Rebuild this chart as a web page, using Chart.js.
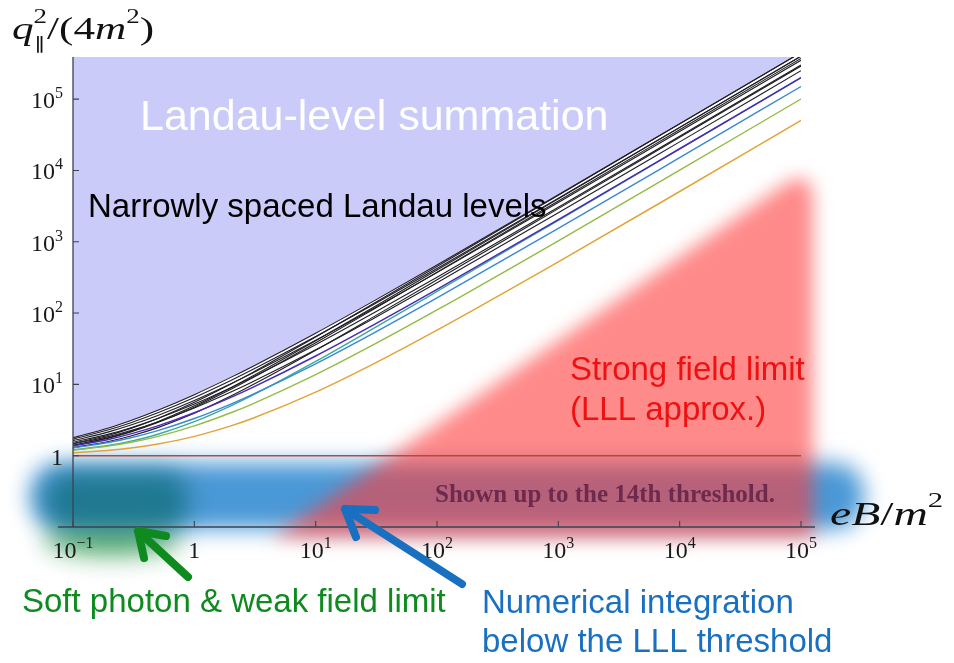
<!DOCTYPE html>
<html>
<head>
<meta charset="utf-8">
<script src="https://cdn.jsdelivr.net/npm/chart.js@4.4.0/dist/chart.umd.min.js"></script>
<style>
  html, body { margin: 0; padding: 0; background: #fff; }
  #wrap { width: 954px; height: 663px; }
</style>
</head>
<body>
<div id="wrap"><canvas id="chart" width="954" height="663"></canvas></div>
<script>
// eB/m^2 sample points
const fieldValues = [0.1, 0.2, 0.3, 0.5, 1, 2, 3, 10, 30, 100, 1000, 10000, 100000];

// q_par^2/(4m^2) of each threshold curve (lowest first)
const thrOrange = [1.098, 1.192, 1.282, 1.457, 1.866, 2.618, 3.323, 7.791, 19.40, 57.59, 522.9, 5071, 50224];
const thrYellowGreen = [1.192, 1.371, 1.542, 1.866, 2.618, 4, 5.303, 13.70, 36, 110.5, 1032, 10101, 100317];
const thrTeal = [1.2, 1.4, 1.6, 2, 3, 5, 7, 21, 61, 201, 2001, 20001, 200001];
const thrBlue = [1.282, 1.542, 1.787, 2.25, 3.323, 5.303, 7.179, 19.40, 52.23, 162.8, 1539, 15123, 150388];
const thrIndigo = [1.371, 1.706, 2.022, 2.618, 4, 6.562, 9, 25, 68.26, 214.6, 2045, 20142, 200448];
const thrBlack1 = [1.298, 1.594, 1.888, 2.475, 3.937, 6.854, 9.770, 30.17, 88.46, 292.4, 2915, 29143, 291422];
const thrBlack2 = [1.457, 1.866, 2.25, 2.975, 4.658, 7.791, 10.78, 30.52, 84.17, 266.3, 2550, 25158, 250500];
const thrBlack3 = [1.393, 1.778, 2.158, 2.914, 4.792, 8.531, 12.27, 38.40, 113.0, 374.3, 3733, 37322, 373206];
const thrBlack4 = [1.4, 1.8, 2.2, 3, 5, 9, 13, 41, 121, 401, 4001, 40001, 400001];
const thrBlack5 = [1.542, 2.022, 2.472, 3.323, 5.303, 9, 12.54, 36, 100, 317.8, 3055, 30174, 300551];
const thrBlack6 = [1.485, 1.954, 2.416, 3.331, 5.598, 10.11, 14.61, 46.12, 136.1, 451.1, 4501, 45001, 450001];
const thrBlack7 = [1.625, 2.175, 2.690, 3.664, 5.937, 10.19, 14.28, 41.44, 115.8, 369.2, 3560, 35187, 350594];
const thrBlack8 = [1.706, 2.325, 2.904, 4, 6.562, 11.37, 16, 46.84, 131.5, 420.5, 4064, 40200, 400632];
const thrTop = [1.787, 2.472, 3.115, 4.331, 7.179, 12.54, 17.71, 52.23, 147.1, 471.7, 4568, 45212, 450671];

// lowest Landau level threshold
const lllField = [0.1, 100000];
const lllValue = [1, 1];

// axis ticks
const xTickValues = [0.1, 1, 10, 100, 1000, 10000, 100000];
const xTickBase = ['10', '1', '10', '10', '10', '10', '10'];
const xTickExp = ['\u22121', '', '1', '2', '3', '4', '5'];
const yTickValues = [1, 10, 100, 1000, 10000, 100000];
const yTickBase = ['1', '10', '10', '10', '10', '10'];
const yTickExp = ['', '1', '2', '3', '4', '5'];

const SANS = "'Liberation Sans', Arial, sans-serif";
const SERIF = "'Liberation Serif', 'Times New Roman', serif";

function pts(vals, xs) {
    xs = xs || fieldValues;
    return xs.map((x, i) => ({ x: x, y: vals[i] }));
}

function curve(vals, color, width) {
    return {
        data: pts(vals),
        borderColor: color,
        borderWidth: width,
        pointRadius: 0,
        cubicInterpolationMode: 'monotone',
        fill: false
    };
}

function arrow(ctx, tail, tip, leg1, leg2, color, w) {
    ctx.save();
    ctx.strokeStyle = color;
    ctx.lineWidth = w;
    ctx.lineCap = 'round';
    ctx.lineJoin = 'round';
    ctx.beginPath();
    ctx.moveTo(tail[0], tail[1]);
    ctx.lineTo(tip[0], tip[1]);
    ctx.stroke();
    ctx.beginPath();
    ctx.moveTo(leg1[0], leg1[1]);
    ctx.lineTo(tip[0], tip[1]);
    ctx.lineTo(leg2[0], leg2[1]);
    ctx.stroke();
    ctx.restore();
}

function txt(ctx, s, x, y, font, color, align) {
    ctx.font = font;
    ctx.fillStyle = color;
    ctx.textAlign = align || 'left';
    ctx.textBaseline = 'alphabetic';
    ctx.fillText(s, x, y);
}

// math label: runs drawn one after another, stretched by sx like the TeX original
function mathLabel(ctx, x, base, sx, runs) {
    ctx.save();
    ctx.translate(x, base);
    ctx.scale(sx, 1);
    ctx.fillStyle = '#111';
    ctx.textAlign = 'left';
    ctx.textBaseline = 'alphabetic';
    let cx = 0;
    runs.forEach(r => {
        let w = 0;
        r.forEach(p => {
            ctx.font = p.f;
            ctx.fillText(p.t, cx, p.dy || 0);
            w = Math.max(w, ctx.measureText(p.t).width);
        });
        cx += w;
    });
    ctx.restore();
}

const decor = {
    id: 'decor',
    beforeDraw(chart) {
        const ctx = chart.ctx;
        ctx.save();
        ctx.fillStyle = '#fff';
        ctx.fillRect(0, 0, chart.width, chart.height);

        // blue band below the LLL threshold
        ctx.filter = 'blur(11px)';
        ctx.fillStyle = '#4a98d6';
        ctx.beginPath();
        ctx.roundRect(30, 463, 834, 66, 30);
        ctx.fill();

        // green glow + dark teal blob at small field
        ctx.filter = 'blur(12px)';
        ctx.fillStyle = 'rgba(40,150,70,0.75)';
        ctx.beginPath();
        ctx.ellipse(112, 540, 68, 16, 0, 0, Math.PI * 2);
        ctx.fill();
        ctx.fillStyle = 'rgba(20,112,128,0.8)';
        ctx.beginPath();
        ctx.roundRect(46, 472, 142, 58, 24);
        ctx.fill();

        // red triangle: strong field region
        ctx.filter = 'blur(9px)';
        ctx.fillStyle = 'rgba(255,60,60,0.6)';
        ctx.beginPath();
        ctx.moveTo(272, 538);
        ctx.lineTo(782, 186);
        ctx.quadraticCurveTo(812, 166, 813, 200);
        ctx.lineTo(813, 538);
        ctx.closePath();
        ctx.fill();
        ctx.restore();
    },
    afterDraw(chart) {
        const ctx = chart.ctx;
        const xs = chart.scales.x, ys = chart.scales.y;
        const x0 = xs.getPixelForValue(xs.min);
        const y0 = ys.getPixelForValue(ys.min);
        const yTop = ys.getPixelForValue(ys.max);
        ctx.save();

        // axes
        ctx.strokeStyle = '#3a4352';
        ctx.lineWidth = 1.3;
        ctx.beginPath();
        ctx.moveTo(58, y0); ctx.lineTo(815, y0);
        ctx.moveTo(x0, yTop); ctx.lineTo(x0, y0);
        ctx.stroke();
        ctx.lineWidth = 1.1;
        ctx.beginPath();
        xTickValues.forEach(v => {
            const px = xs.getPixelForValue(v);
            ctx.moveTo(px, y0); ctx.lineTo(px, y0 - 6);
        });
        yTickValues.forEach(v => {
            const py = ys.getPixelForValue(v);
            ctx.moveTo(x0, py); ctx.lineTo(x0 + 6, py);
        });
        ctx.stroke();

        // tick labels (10 with superscript exponent)
        const baseFont = '24px ' + SERIF, expFont = '16px ' + SERIF;
        xTickValues.forEach((v, i) => {
            const px = xs.getPixelForValue(v);
            ctx.font = baseFont;
            const wb = ctx.measureText(xTickBase[i]).width;
            ctx.font = expFont;
            const we = xTickExp[i] ? ctx.measureText(xTickExp[i]).width : 0;
            const left = px - (wb + we) / 2;
            txt(ctx, xTickBase[i], left, 558, baseFont, '#1a1a1a');
            if (xTickExp[i]) txt(ctx, xTickExp[i], left + wb, 548, expFont, '#1a1a1a');
        });
        yTickValues.forEach((v, i) => {
            const py = ys.getPixelForValue(v);
            ctx.font = expFont;
            const we = yTickExp[i] ? ctx.measureText(yTickExp[i]).width : 0;
            const right = 63;
            if (yTickExp[i]) txt(ctx, yTickExp[i], right, py - 1, expFont, '#1a1a1a', 'right');
            txt(ctx, yTickBase[i], right - we, py + 9, baseFont, '#1a1a1a', 'right');
        });

        // axis titles
        const it = 'italic 32px ' + SERIF, up = '32px ' + SERIF, sm = '20px ' + SERIF;
        mathLabel(ctx, 12, 39, 1.35, [
            [{ t: 'q', f: it }],
            [{ t: '2', f: sm, dy: -16 }, { t: '\u2225', f: '17px ' + SERIF, dy: 10 }],
            [{ t: '/', f: up }],
            [{ t: '(', f: up }],
            [{ t: '4', f: up }],
            [{ t: 'm', f: it }],
            [{ t: '2', f: sm, dy: -16 }],
            [{ t: ')', f: up }]
        ]);
        const it2 = 'italic 34px ' + SERIF;
        mathLabel(ctx, 830, 525, 1.4, [
            [{ t: 'e', f: it2 }],
            [{ t: 'B', f: it2 }],
            [{ t: '/', f: '34px ' + SERIF }],
            [{ t: 'm', f: it2 }],
            [{ t: '2', f: '22px ' + SERIF, dy: -18 }]
        ]);

        // annotations
        txt(ctx, 'Landau-level summation', 140, 130, '43px ' + SANS, '#ffffff');
        txt(ctx, 'Narrowly spaced Landau levels', 88, 217, '33px ' + SANS, '#000000');
        txt(ctx, 'Strong field limit', 570, 380, '33px ' + SANS, '#ee1111');
        txt(ctx, '(LLL approx.)', 570, 420, '33px ' + SANS, '#ee1111');
        txt(ctx, 'Shown up to the 14th threshold.', 435, 502, 'bold 25px ' + SERIF, '#6e2a4c');
        txt(ctx, 'Soft photon & weak field limit', 22, 612, '33px ' + SANS, '#0e8a1e');
        txt(ctx, 'Numerical integration', 482, 613, '33px ' + SANS, '#1a70c0');
        txt(ctx, 'below the LLL threshold', 482, 652, '33px ' + SANS, '#1a70c0');

        arrow(ctx, [188, 577], [138, 531], [166, 536], [144, 558], '#0e8a1e', 8);
        arrow(ctx, [462, 584], [345, 509], [375, 510], [356, 537], '#1a70c0', 8);
        ctx.restore();
    }
};

const blackCurves = [thrBlack1, thrBlack2, thrBlack3, thrBlack4, thrBlack5, thrBlack6, thrBlack7, thrBlack8];

const datasets = [
    { data: pts(lllValue, lllField), borderColor: '#b8483f', borderWidth: 1.6, pointRadius: 0, fill: false },
    curve(thrOrange, '#e3a338', 1.5),
    curve(thrYellowGreen, '#93bb45', 1.4),
    curve(thrIndigo, '#4a2ab4', 1.5),
    curve(thrBlue, '#3a88d2', 1.4),
    curve(thrTeal, '#3aab98', 1.4)
];
blackCurves.forEach(c => datasets.push(curve(c, '#1e1e24', 1.1)));
const topCurve = curve(thrTop, '#1e1e24', 1.1);
topCurve.fill = 'end';
topCurve.backgroundColor = '#cbcbfa';
datasets.push(topCurve);

new Chart(document.getElementById('chart'), {
    type: 'line',
    data: { datasets: datasets },
    options: {
        responsive: false,
        animation: false,
        devicePixelRatio: 1,
        layout: { padding: { left: 73, right: 153, top: 57, bottom: 136 } },
        plugins: {
            legend: { display: false },
            tooltip: { enabled: false },
            filler: { propagate: false }
        },
        scales: {
            x: { type: 'logarithmic', min: 0.1, max: 100000, display: false },
            y: { type: 'logarithmic', min: 0.1, max: 390000, display: false }
        }
    },
    plugins: [decor]
});
</script>
</body>
</html>
